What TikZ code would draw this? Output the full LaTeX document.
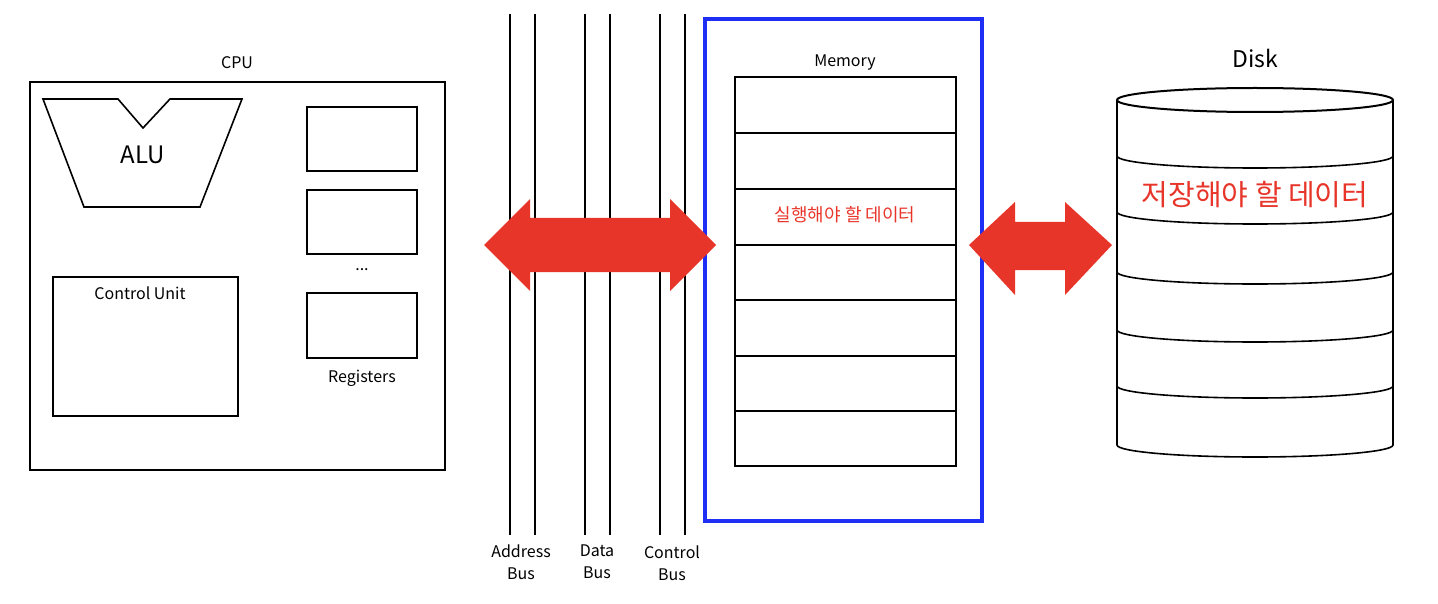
\documentclass[tikz,border=0pt]{standalone}
\usepackage{fontspec}
\setmainfont{Noto Sans CJK KR}
\definecolor{arrowred}{HTML}{E8352A}
\definecolor{framblue}{HTML}{1E2EF5}
\tikzset{
  box/.style={draw, line width=1.6pt},
  lbl/.style={font=\fontsize{16}{18}\selectfont, align=center},
  redarrow/.style={fill=arrowred, draw=none},
}
\begin{document}
\begin{tikzpicture}[x=1pt,y=-1pt]
	
	\useasboundingbox (0,0) rectangle (1438,604);
	
	% CPU
	\draw [box] (30,82) rectangle (445,470);
	\node [lbl] (cpu) at (237,63) {CPU};
	
	\draw [box] (43,99) -- (118,99) -- (143,128) -- (170,99) -- (242,99) -- (200,207) -- (84,207) -- cycle;
	\node [font=\fontsize{24}{26}\selectfont] (alu) at (143,155) {ALU};
	
	\draw [box] (53,277) rectangle (238,416);
	\node [lbl] (cu) at (140,293) {Control Unit};
	
	\foreach \t/\b in {107/171,190/254,293/358}
		\draw [box] (307,\t) rectangle (417,\b);
	\node [lbl] (dots) at (362,270) {...};
	\node [lbl] (regs) at (362,378) {Registers};
	
	% buses
	\foreach \x in {510,535,585,610,660,685}
		\draw [line width=1.6pt] (\x,14) -- (\x,535);
	\node [lbl, font=\fontsize{16}{22}\selectfont] (abus) at (521,562) {Address\\Bus};
	\node [lbl, font=\fontsize{16}{22}\selectfont] (dbus) at (597,562) {Data\\Bus};
	\node [lbl, font=\fontsize{16}{22}\selectfont] (cbus) at (672,563) {Control\\Bus};
	
	% memory
	\draw [draw=framblue, line width=4pt] (705,19) rectangle (982,521);
	\node [lbl] (mem) at (845,63) {Memory};
	\draw [box] (735,77) rectangle (956,466);
	\foreach \y in {133,189,245,300,356,411}
		\draw [box] (735,\y) -- (956,\y);
	\node [font=\fontsize{18}{20}\selectfont, text=arrowred] (memdata) at (845,215) {실행해야 할 데이터};
	
	% arrows
	\fill [redarrow] (484,245) -- (530,199) -- (530,218) -- (670,218) -- (670,199) -- (716,245)
		-- (670,291) -- (670,272) -- (530,272) -- (530,291) -- cycle;
	\fill [redarrow] (969,245) -- (1015,202) -- (1015,222) -- (1065,222) -- (1065,202) -- (1112,245)
		-- (1065,295) -- (1065,270) -- (1015,270) -- (1015,295) -- cycle;
	
	% disk
	\node [font=\fontsize{23}{25}\selectfont] (disk) at (1255,58) {Disk};
	\draw [box, fill=white] (1117,100) -- (1117,445) arc [start angle=180, end angle=0, x radius=138, y radius=12]
		-- (1393,100);
	\draw [box, line width=2pt] (1255,100) ellipse [x radius=138, y radius=12];
	\foreach \y in {156,212,272,330,386}
		\draw [box] (1117,\y) arc [start angle=180, end angle=0, x radius=138, y radius=12];
	\node [font=\fontsize{29}{31}\selectfont, text=arrowred] (diskdata) at (1255,195) {저장해야 할 데이터};

\end{tikzpicture}
\end{document}
